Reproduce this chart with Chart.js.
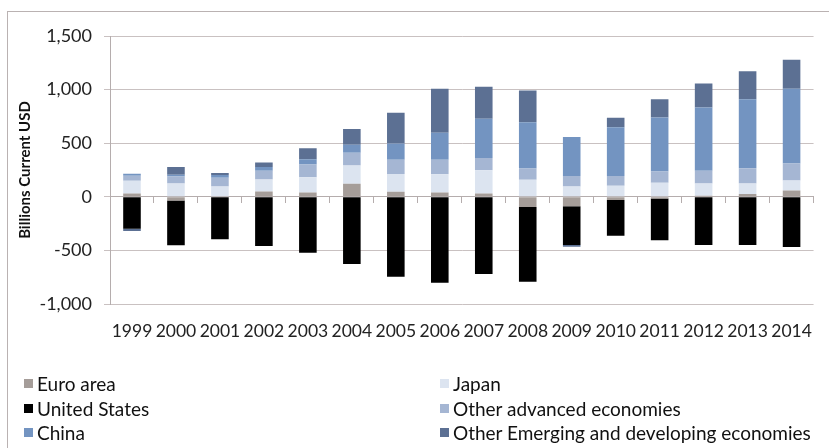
<!DOCTYPE html>
<html><head><meta charset="utf-8">
<script src="https://cdn.jsdelivr.net/npm/chart.js@4/dist/chart.umd.min.js"></script>
<style>
html,body{margin:0;padding:0;background:#fff;}
#wrap{position:relative;width:829px;height:448px;overflow:hidden;background:#fff;}
#frame{position:absolute;left:7px;top:11px;width:900px;height:500px;border:1px solid #bab2b2;box-sizing:border-box;}
canvas{position:absolute;left:0;top:0;}
#legend{position:absolute;left:0;top:0;font-family:Lato, sans-serif;font-size:19px;color:#111;}
.item{position:absolute;white-space:nowrap;display:flex;align-items:center;height:24px;}
.sw{width:9px;height:9px;margin-right:4px;}
</style></head>
<body><div id="wrap"><div id="frame"></div><canvas id="c" width="829" height="448"></canvas><div id="legend"></div></div>
<script>
const years = ['1999','2000','2001','2002','2003','2004','2005','2006','2007','2008','2009','2010','2011','2012','2013','2014'];
const euroArea = [31, -34, 0, 50, 40, 121, 47, 40, 31, -96, -87, -31, -15, 10, 25, 59];
const unitedStates = [-298, -419, -397, -459, -521, -627, -745, -801, -720, -696, -363, -333, -391, -450, -450, -469];
const japan = [118, 125, 97, 112, 143, 171, 165, 171, 217, 158, 96, 102, 130, 115, 99, 93];
const otherAdvanced = [47, 64, 81, 81, 118, 118, 134, 134, 115, 106, 99, 93, 106, 118, 143, 158];
const china = [19, 16, 25, 34, 50, 75, 152, 252, 366, 432, 363, 453, 503, 590, 643, 699];
const otherEmerging = [-22, 72, 19, 44, 103, 147, 286, 410, 298, 295, -15, 90, 171, 224, 261, 270];
const yTicks = { min: -1000, max: 1500, step: 500 };

const seriesNames = ['Euro area', 'United States', 'Japan', 'Other advanced economies', 'China', 'Other Emerging and developing economies'];
const seriesColors = ['#a59d99', '#000000', '#dce4f0', '#a5b6d3', '#7394c1', '#5c7093'];
const seriesData = [euroArea, unitedStates, japan, otherAdvanced, china, otherEmerging];

const datasets = seriesNames.map((n, i) => ({
  label: n, data: seriesData[i], backgroundColor: seriesColors[i], borderWidth: 0, xAxisID: 'x', yAxisID: 'y'
}));

const FONT = 'Lato';
new Chart(document.getElementById('c'), {
  type: 'bar',
  data: { labels: years, datasets },
  options: {
    responsive: false, animation: false,
    layout: { padding: { top: 36, right: 4, left: 0, bottom: 104 } },
    plugins: { legend: { display: false }, tooltip: { enabled: false } },
    datasets: { bar: { barPercentage: 0.4, categoryPercentage: 1 } },
    scales: {
      x: {
        stacked: true,
        grid: { display: false, drawTicks: false },
        border: { display: false },
        ticks: { font: { family: FONT, size: 17.5 }, color: '#222', padding: 17, maxRotation: 0, autoSkip: false },
        afterFit: s => { s.height = 40; }
      },
      x2: {
        type: 'category', position: { y: 0 }, offset: true,
        grid: { offset: true, drawOnChartArea: false, drawTicks: true, tickLength: 6, color: '#b5adad' },
        border: { display: true, color: '#b5adad' },
        ticks: { display: false }
      },
      y: {
        stacked: true, min: yTicks.min, max: yTicks.max,
        ticks: { stepSize: yTicks.step, font: { family: FONT, size: 18 }, color: '#222', padding: 12 },
        grid: { color: '#c9c1c1', tickLength: 6, drawTicks: true },
        border: { color: '#b5adad' },
        title: { display: true, text: 'Billions Current USD', font: { family: FONT, size: 15, weight: 'bold' }, color: '#111', padding: { top: 16, bottom: 0 } },
        afterFit: s => { s.width = 110; }
      }
    }
  }
});

const legendOrder = [0, 2, 1, 3, 4, 5];
const legendEl = document.getElementById('legend');
const rowCenters = [383, 408, 432];
const colLefts = [24, 440];
legendOrder.forEach((si, k) => {
  const d = document.createElement('div');
  d.className = 'item';
  d.style.left = colLefts[k % 2] + 'px';
  d.style.top = (rowCenters[Math.floor(k / 2)] - 12) + 'px';
  const sw = document.createElement('span');
  sw.className = 'sw'; sw.style.background = seriesColors[si];
  const t = document.createElement('span');
  t.textContent = seriesNames[si];
  d.appendChild(sw); d.appendChild(t);
  legendEl.appendChild(d);
});
</script>
</body></html>
